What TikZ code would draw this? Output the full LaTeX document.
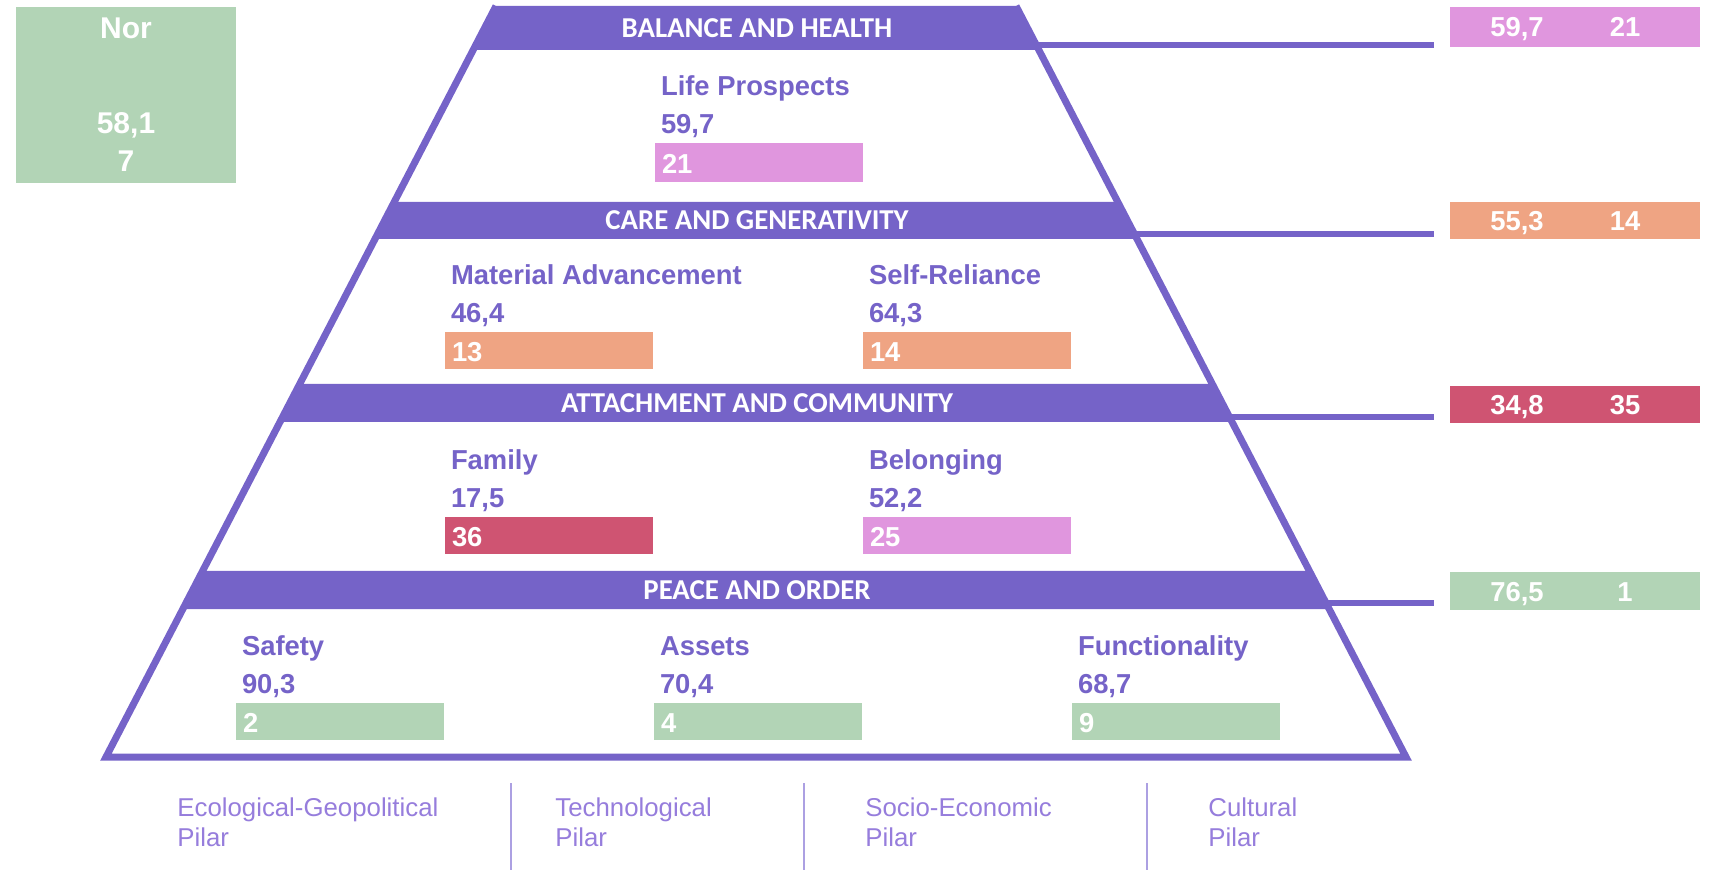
\documentclass[tikz,border=0pt]{standalone}
\usepackage{fontspec}
\setmainfont{Liberation Sans}
\newfontfamily\headfont{Carlito}
\usetikzlibrary{positioning,calc}

\definecolor{pyrpurple}{RGB}{117,99,200}
\definecolor{pilarpurple}{RGB}{150,125,220}
\definecolor{seppurple}{RGB}{172,160,226}
\definecolor{boxgreen}{RGB}{178,212,182}
\definecolor{boxpink}{RGB}{224,150,222}
\definecolor{boxsalmon}{RGB}{239,164,131}
\definecolor{boxred}{RGB}{207,84,114}

\begin{document}
\begin{tikzpicture}[x=0.5pt, y=-0.5pt,
    band/.style={fill=pyrpurple},
    outline/.style={draw=pyrpurple, line width=3.5pt},
    head/.style={text=white, font=\headfont\bfseries\fontsize{14.4}{17}\selectfont},
    itembox/.style={rectangle, minimum width=104pt, minimum height=18.5pt, text width=97pt, inner xsep=3.5pt, inner ysep=0pt,
        text height=11pt, text depth=0pt, align=left, text=white, font=\bfseries\fontsize{13.7}{16}\selectfont},
    title/.style={inner sep=0pt, text depth=0pt, text=pyrpurple, font=\bfseries\fontsize{13.7}{16}\selectfont},
    valbox/.style={rectangle, minimum width=125pt, minimum height=18.5pt, inner sep=0pt},
    valtxt/.style={text=white, text height=10pt, text depth=0pt, font=\bfseries\fontsize{13.7}{16}\selectfont},
    link/.style={draw=pyrpurple, line width=3.3pt, shorten >=8pt},
    pilar/.style={anchor=north west, inner sep=0pt, align=left, text=pilarpurple, font=\fontsize{12.9}{15}\selectfont},
    sep/.style={draw=seppurple, line width=1pt}
]
    \useasboundingbox (0,0) rectangle (1711,870);

    % bands of the pyramid
    \fill[band] (496,6) -- (1016,6) -- (1039,50) -- (473,50) -- cycle;
    \fill[band] (394,202) -- (1118,202) -- (1137,239) -- (375,239) -- cycle;
    \fill[band] (300,384) -- (1212,384) -- (1232,422) -- (280,422) -- cycle;
    \fill[band] (203,571) -- (1309,571) -- (1329,609) -- (183,609) -- cycle;
    \draw[outline] (1016,6) -- (1406,757) -- (106,757) -- (496,6);

    \node[head] (balance) at (757,28) {BALANCE AND HEALTH};
    \node[head] (care) at (757,220.5) {CARE AND GENERATIVITY};
    \node[head] (attach) at (757,403) {ATTACHMENT AND COMMUNITY};
    \node[head] (peace) at (757,590) {PEACE AND ORDER};

    % country box
    \node[rectangle, fill=boxgreen, minimum width=110pt, minimum height=88pt, align=center,
          text=white, font=\bfseries\fontsize{15}{19}\selectfont] (nor) at (126,95) {Nor\\[28.5pt]58,1\\7};

    % values per level
    \node[valbox, fill=boxpink, minimum height=20pt] (v1) at (1575,27) {};
    \node[valtxt] (v1a) at ($(v1)+(-58,0)$) {59,7};
    \node[valtxt] (v1b) at ($(v1)+(50,0)$) {21};

    \node[valbox, fill=boxsalmon] (v2) at (1575,220.5) {};
    \node[valtxt] (v2a) at ($(v2)+(-58,0)$) {55,3};
    \node[valtxt] (v2b) at ($(v2)+(50,0)$) {14};

    \node[valbox, fill=boxred] (v3) at (1575,405) {};
    \node[valtxt] (v3a) at ($(v3)+(-58,0)$) {34,8};
    \node[valtxt] (v3b) at ($(v3)+(50,0)$) {35};

    \node[valbox, fill=boxgreen] (v4) at (1575,591) {};
    \node[valtxt] (v4a) at ($(v4)+(-58,0)$) {76,5};
    \node[valtxt] (v4b) at ($(v4)+(50,0)$) {1};

    \coordinate (o1) at (1036,45);
    \coordinate (o2) at (1134,234);
    \coordinate (o3) at (1229,417);
    \coordinate (o4) at (1326,603);
    \draw[link] (o1) -- (o1 -| v1.west);
    \draw[link] (o2) -- (o2 -| v2.west);
    \draw[link] (o3) -- (o3 -| v3.west);
    \draw[link] (o4) -- (o4 -| v4.west);

    % level 1
    \node[itembox, fill=boxpink, minimum height=19.5pt] (life) at (759,162.5) {21};
    \node[title, above right=23.5pt and 3pt of life.north west] (lifet) {Life Prospects};
    \node[title, above right=4.5pt and 3pt of life.north west] (lifev) {59,7};

    % level 2
    \node[itembox, fill=boxsalmon] (mat) at (549,350.5) {13};
    \node[title, above right=23.5pt and 3pt of mat.north west] (matt) {Material Advancement};
    \node[title, above right=4.5pt and 3pt of mat.north west] (matv) {46,4};

    \node[itembox, fill=boxsalmon] (self) at (967,350.5) {14};
    \node[title, above right=23.5pt and 3pt of self.north west] (selft) {Self-Reliance};
    \node[title, above right=4.5pt and 3pt of self.north west] (selfv) {64,3};

    % level 3
    \node[itembox, fill=boxred] (fam) at (549,535.5) {36};
    \node[title, above right=23.5pt and 3pt of fam.north west] (famt) {Family};
    \node[title, above right=4.5pt and 3pt of fam.north west] (famv) {17,5};

    \node[itembox, fill=boxpink] (bel) at (967,535.5) {25};
    \node[title, above right=23.5pt and 3pt of bel.north west] (belt) {Belonging};
    \node[title, above right=4.5pt and 3pt of bel.north west] (belv) {52,2};

    % level 4
    \node[itembox, fill=boxgreen] (saf) at (340,721.5) {2};
    \node[title, above right=23.5pt and 3pt of saf.north west] (saft) {Safety};
    \node[title, above right=4.5pt and 3pt of saf.north west] (safv) {90,3};

    \node[itembox, fill=boxgreen] (ass) at (758,721.5) {4};
    \node[title, above right=23.5pt and 3pt of ass.north west] (asst) {Assets};
    \node[title, above right=4.5pt and 3pt of ass.north west] (assv) {70,4};

    \node[itembox, fill=boxgreen] (fun) at (1176,721.5) {9};
    \node[title, above right=23.5pt and 3pt of fun.north west] (funt) {Functionality};
    \node[title, above right=4.5pt and 3pt of fun.north west] (funv) {68,7};

    % pillars
    \node[pilar] (eco) at (177,797) {Ecological-Geopolitical\\Pilar};
    \node[pilar] (tech) at (555,797) {Technological\\Pilar};
    \node[pilar] (socio) at (865,797) {Socio-Economic\\Pilar};
    \node[pilar] (cult) at (1208,797) {Cultural\\Pilar};
    \draw[sep] (511,783) -- (511,870);
    \draw[sep] (804,783) -- (804,870);
    \draw[sep] (1147,783) -- (1147,870);
\end{tikzpicture}
\end{document}
